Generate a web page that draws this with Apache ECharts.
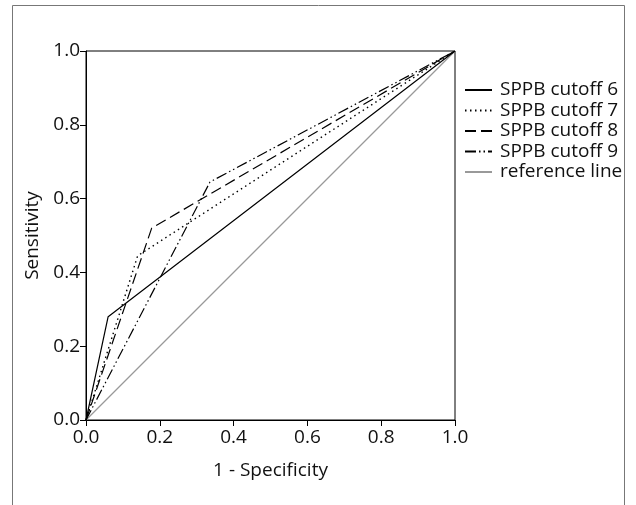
<!DOCTYPE html>
<html>
<head>
<meta charset="utf-8">
<script src="https://cdn.jsdelivr.net/npm/echarts@6/dist/echarts.min.js"></script>
<style>
html,body{margin:0;padding:0;background:#fff;}
#c{width:636px;height:505px;}
</style>
</head>
<body>
<div id="c"></div>
<script>
// Data (1 - specificity, sensitivity)
const seriesNames = ['SPPB cutoff 6', 'SPPB cutoff 7', 'SPPB cutoff 8', 'SPPB cutoff 9', 'reference line'];
const fpr6 = [0, 0.06, 1];
const sens6 = [0, 0.28, 1];
const fpr7 = [0, 0.14, 1];
const sens7 = [0, 0.445, 1];
const fpr8 = [0, 0.178, 1];
const sens8 = [0, 0.52, 1];
const fpr9 = [0, 0.336, 1];
const sens9 = [0, 0.645, 1];
const fprRef = [0, 1];
const sensRef = [0, 1];
const tickValues = [0, 0.2, 0.4, 0.6, 0.8, 1.0];

const FONT = 'Open Sans';
const FS = 19;
function pairs(xs, ys) { return xs.map((x, i) => [x, ys[i]]); }

const styles = [
  { color: '#000', width: 1.2, type: 'solid' },
  { color: '#000', width: 1.4, type: [1.5, 3.5] },
  { color: '#000', width: 1.2, type: [11, 5] },
  { color: '#000', width: 1.2, type: [11, 3, 1.5, 3, 1.5, 3] },
  { color: '#999', width: 1.2, type: 'solid' }
];
const datas = [pairs(fpr6, sens6), pairs(fpr7, sens7), pairs(fpr8, sens8), pairs(fpr9, sens9), pairs(fprRef, sensRef)];

const series = datas.map((d, i) => ({
  name: seriesNames[i],
  type: 'line',
  data: d,
  symbol: 'none',
  silent: true,
  animation: false,
  z: i === 4 ? 1 : 2 + i,
  lineStyle: { color: styles[i].color, width: styles[i].width, type: styles[i].type },
  itemStyle: { color: styles[i].color }
}));

const chart = echarts.init(document.getElementById('c'), null, { renderer: 'canvas' });
chart.setOption({
  animation: false,
  backgroundColor: '#fff',
  graphic: [{
    type: 'rect',
    shape: { x: 12.5, y: 5.5, width: 612, height: 520 },
    style: { fill: 'none', stroke: '#777', lineWidth: 1 },
    silent: true,
    z: -1
  }],
  grid: { left: 86, top: 51, width: 369, height: 369, show: true, borderColor: '#000', borderWidth: 1, backgroundColor: 'transparent' },
  legend: {
    orient: 'vertical',
    left: 464,
    top: 80,
    padding: 0,
    itemWidth: 27,
    itemHeight: 14,
    itemGap: 0.5,
    selectedMode: false,
    itemStyle: { opacity: 0, borderWidth: 0 },
    textStyle: { fontFamily: FONT, fontSize: FS, color: '#111', lineHeight: 20, padding: [0, 0, 0, 3] },
    data: seriesNames
  },
  xAxis: {
    type: 'value', min: 0, max: 1, interval: 0.2,
    name: '1 - Specificity', nameLocation: 'middle', nameGap: 41,
    nameTextStyle: { fontFamily: FONT, fontSize: FS, color: '#111' },
    axisLine: { show: true, lineStyle: { color: '#000', width: 1 } },
    axisTick: { show: true, inside: false, length: 6, lineStyle: { color: '#000' } },
    axisLabel: { fontFamily: FONT, fontSize: FS, color: '#111', margin: 8, formatter: v => v.toFixed(1) },
    splitLine: { show: false }
  },
  yAxis: {
    type: 'value', min: 0, max: 1, interval: 0.2,
    name: 'Sensitivity', nameLocation: 'middle', nameGap: 42,
    nameTextStyle: { fontFamily: FONT, fontSize: FS, color: '#111' },
    axisLine: { show: true, lineStyle: { color: '#000', width: 1 } },
    axisTick: { show: true, inside: false, length: 6, lineStyle: { color: '#000' } },
    axisLabel: { fontFamily: FONT, fontSize: FS, color: '#111', margin: 6, formatter: v => v.toFixed(1) },
    splitLine: { show: false }
  },
  series: series
});
</script>
</body>
</html>
